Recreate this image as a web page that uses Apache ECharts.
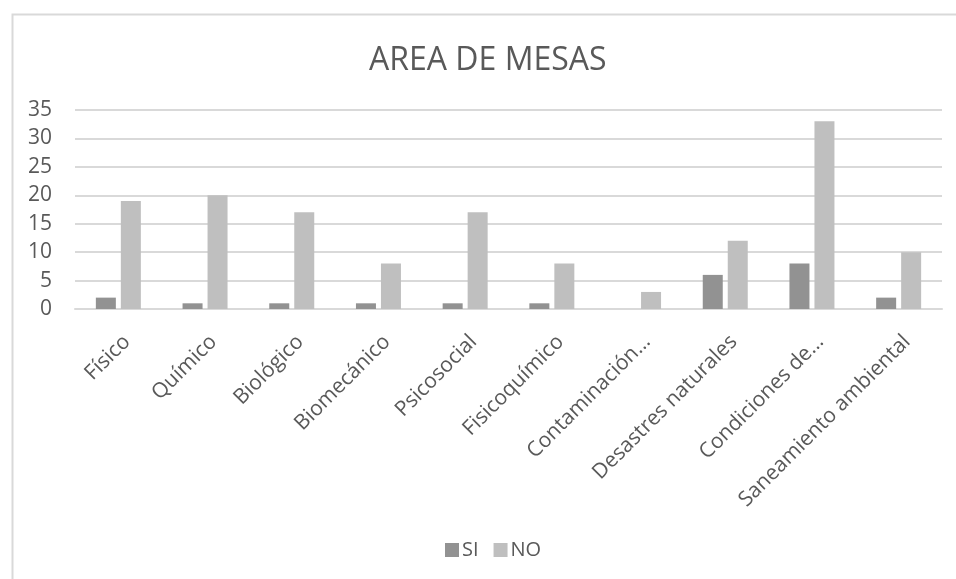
<!DOCTYPE html>
<html>
<head>
<meta charset="utf-8">
<script src="https://cdn.jsdelivr.net/npm/echarts@6/dist/echarts.min.js"></script>
<style>
html,body{margin:0;padding:0;background:#fff;}
#chart{width:956px;height:579px;}
</style>
</head>
<body>
<div id="chart"></div>
<script>
const titleText = 'AREA DE MESAS';
const categories = ['Físico','Químico','Biológico','Biomecánico','Psicosocial','Fisicoquímico','Contaminación…','Desastres naturales','Condiciones de…','Saneamiento ambiental'];
const seriesNames = ['SI','NO'];
const siValues = [2,1,1,1,1,1,0,6,8,2];
const noValues = [19,20,17,8,17,8,3,12,33,10];
const yTicks = {min:0, max:35, interval:5};

const FONT = '"Open Sans", sans-serif';
const TXT = '#595959';
const chart = echarts.init(document.getElementById('chart'));
chart.setOption({
  animation:false,
  backgroundColor:'#ffffff',
  graphic:[{
    type:'rect', left:10, top:12, silent:true,
    shape:{width:1000, height:620},
    style:{fill:'none', stroke:'#d9d9d9', lineWidth:2}
  }],
  title:{
    text:titleText, left:369, top:45, padding:0,
    textStyle:{fontFamily:FONT, fontSize:32, fontWeight:'normal', color:TXT}
  },
  legend:{
    data:seriesNames, left:445, top:540, padding:0,
    itemWidth:14, itemHeight:14, itemGap:15, icon:'rect',
    textStyle:{fontFamily:FONT, fontSize:20, color:TXT, padding:[0,0,0,-2]}
  },
  grid:{left:75, right:14, top:110, bottom:270, containLabel:false},
  xAxis:{
    type:'category', data:categories,
    axisLine:{lineStyle:{color:'#d9d9d9', width:2}},
    axisTick:{show:false},
    axisLabel:{interval:0, rotate:45, margin:38, padding:[0,-12,0,0],
      fontFamily:FONT, fontSize:21, color:TXT}
  },
  yAxis:{
    type:'value', min:yTicks.min, max:yTicks.max, interval:yTicks.interval,
    axisLine:{show:false}, axisTick:{show:false},
    splitLine:{lineStyle:{color:'#d9d9d9', width:2}},
    axisLabel:{margin:23, fontFamily:FONT, fontSize:21, color:TXT}
  },
  series:[
    {name:seriesNames[0], type:'bar', data:siValues, barWidth:20, barGap:'25%',
     itemStyle:{color:'#929292'}},
    {name:seriesNames[1], type:'bar', data:noValues, barWidth:20, barGap:'25%',
     itemStyle:{color:'#bfbfbf'}}
  ]
});
</script>
</body>
</html>
